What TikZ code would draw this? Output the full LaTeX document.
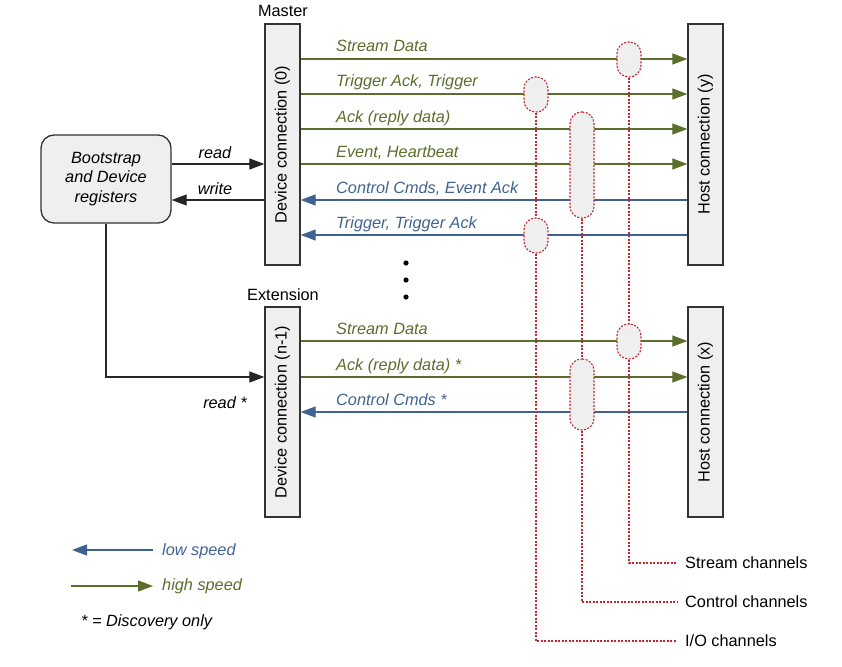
\documentclass[tikz,border=0pt]{standalone}
\usepackage{fontspec}
\setmainfont{Liberation Sans}
\usetikzlibrary{arrows.meta}
\newcommand\dgfont{\fontsize{16.3}{19.5}\selectfont}
\definecolor{hig}{HTML}{5B6E2C}
\definecolor{lob}{HTML}{3F6391}
\definecolor{chred}{HTML}{C0282D}
\definecolor{boxfill}{HTML}{EFEFEF}
\definecolor{boxline}{HTML}{333333}
\tikzset{
  conbox/.style={draw=boxline, line width=1.3pt, fill=boxfill, minimum width=35pt, inner sep=0pt},
  bootbox/.style={draw=boxline, line width=1.3pt, fill=boxfill, rounded corners=13pt, minimum width=130pt, minimum height=88pt, align=center, font=\dgfont\itshape, inner sep=0pt},
  tipA/.style={-{Triangle[length=15pt,width=11pt]}},
  hiarrow/.style={draw=hig, line width=1.2pt, tipA, color=hig},
  loarrow/.style={draw=lob, line width=1.2pt, tipA, color=lob},
  blkarrow/.style={draw=black!85, line width=1.2pt, tipA},
  hilabel/.style={anchor=base west, inner sep=0pt, text=hig, font=\dgfont\itshape},
  lolabel/.style={anchor=base west, inner sep=0pt, text=lob, font=\dgfont\itshape},
  blklabel/.style={anchor=base, inner sep=0pt, font=\dgfont\itshape},
  chanpill/.style={draw=chred, line width=1.1pt, dash pattern=on 2pt off 1.5pt, fill=boxfill, rounded corners=11.5pt, minimum width=24pt, inner sep=0pt},
  chanline/.style={draw=chred, line width=1.1pt, dash pattern=on 2pt off 1.5pt},
  chanlabel/.style={anchor=west, inner xsep=8pt, inner ysep=0pt},
  headlabel/.style={anchor=base, inner sep=0pt},
}
\begin{document}
\begin{tikzpicture}[x=1pt, y=-1pt, font=\dgfont]
\useasboundingbox (0,0) rectangle (842,666);
% boxes
\node[conbox, minimum height=241pt] (dev0) at (282.5,144.5) {};
\node[rotate=90] (dev0t) at (dev0.center) {Device connection (0)};
\node[conbox, minimum height=241pt] (host0) at (705.5,144.5) {};
\node[rotate=90] (host0t) at (host0.center) {Host connection (y)};
\node[conbox, minimum height=210pt] (dev1) at (282.5,412) {};
\node[rotate=90] (dev1t) at (dev1.center) {Device connection (n-1)};
\node[conbox, minimum height=210pt] (host1) at (705.5,412) {};
\node[rotate=90] (host1t) at (host1.center) {Host connection (x)};
\node[headlabel] (master) at (283,17) {Master};
\node[headlabel] (ext) at (283,300) {Extension};
\node[bootbox] (boot) at (106,179) {Bootstrap\\and Device\\registers};
% master lines
\draw[hiarrow] (dev0.east |- 0,59) -- (host0.west |- 0,59);
\draw[hiarrow] (dev0.east |- 0,94) -- (host0.west |- 0,94);
\draw[hiarrow] (dev0.east |- 0,129) -- (host0.west |- 0,129);
\draw[hiarrow] (dev0.east |- 0,164) -- (host0.west |- 0,164);
\draw[loarrow] (host0.west |- 0,200) -- (dev0.east |- 0,200);
\draw[loarrow] (host0.west |- 0,235) -- (dev0.east |- 0,235);
\node[hilabel] (l1) at (336,52) {Stream Data};
\node[hilabel] (l2) at (336,87) {Trigger Ack, Trigger};
\node[hilabel] (l3) at (336,122) {Ack (reply data)};
\node[hilabel] (l4) at (336,157) {Event, Heartbeat};
\node[lolabel] (l5) at (336,193) {Control Cmds, Event Ack};
\node[lolabel] (l6) at (336,228) {Trigger, Trigger Ack};
% extension lines
\draw[hiarrow] (dev1.east |- 0,341) -- (host1.west |- 0,341);
\draw[hiarrow] (dev1.east |- 0,377) -- (host1.west |- 0,377);
\draw[loarrow] (host1.west |- 0,412) -- (dev1.east |- 0,412);
\node[hilabel] (m1) at (336,334) {Stream Data};
\node[hilabel] (m2) at (336,370) {Ack (reply data) *};
\node[lolabel] (m3) at (336,405) {Control Cmds *};
% bootstrap connections
\draw[blkarrow] (boot.east |- 0,164) -- (dev0.west |- 0,164);
\draw[blkarrow] (dev0.west |- 0,200) -- (boot.east |- 0,200);
\draw[blkarrow] (boot.south) |- (dev1.west |- 0,377);
\node[blklabel] (rd) at (215,158) {read};
\node[blklabel] (wr) at (215,194) {write};
\node[blklabel] (rd2) at (225,408) {read *};
% dots
\fill (406,263) circle (2.6pt);
\fill (406,280) circle (2.6pt);
\fill (406,297) circle (2.6pt);
% channel labels
\node[chanlabel] (stxt) at (677,563) {Stream channels};
\node[chanlabel] (ctxt) at (677,602) {Control channels};
\node[chanlabel] (iotxt) at (677,641) {I/O channels};
% channel pills
\coordinate (s0c) at (629,59.5);
\coordinate (io0c) at (536,94.5);
\coordinate (c0c) at (582,165);
\coordinate (io1c) at (536,235.5);
\coordinate (s1c) at (629,341.5);
\coordinate (c1c) at (582,394.5);
\node[chanpill, minimum height=35pt] (s0) at (s0c) {};
\node[chanpill, minimum height=35pt] (io0) at (io0c) {};
\node[chanpill, minimum height=106pt] (c0) at (c0c) {};
\node[chanpill, minimum height=35pt] (io1) at (io1c) {};
\node[chanpill, minimum height=35pt] (s1) at (s1c) {};
\node[chanpill, minimum height=71pt] (c1) at (c1c) {};
\draw[chanline] (s0.south) -- (s1.north);
\draw[chanline] (s1.south) |- (stxt.west);
\draw[chanline] (c0.south) -- (c1.north);
\draw[chanline] (c1.south) |- (ctxt.west);
\draw[chanline] (io0.south) -- (io1.north);
\draw[chanline] (io1.south) |- (iotxt.west);
% legend
\coordinate (lsA) at (153,550);
\coordinate (lsB) at (72,550);
\coordinate (hsA) at (71,586);
\coordinate (hsB) at (153,586);
\draw[loarrow] (lsA) -- (lsB);
\draw[hiarrow] (hsA) -- (hsB);
\node[lolabel] (lsT) at (162,555) {low speed};
\node[hilabel] (hsT) at (162,590) {high speed};
\node[anchor=base west, inner sep=0pt, font=\dgfont\itshape] (disc) at (81,626) {* = Discovery only};
\end{tikzpicture}
\end{document}
